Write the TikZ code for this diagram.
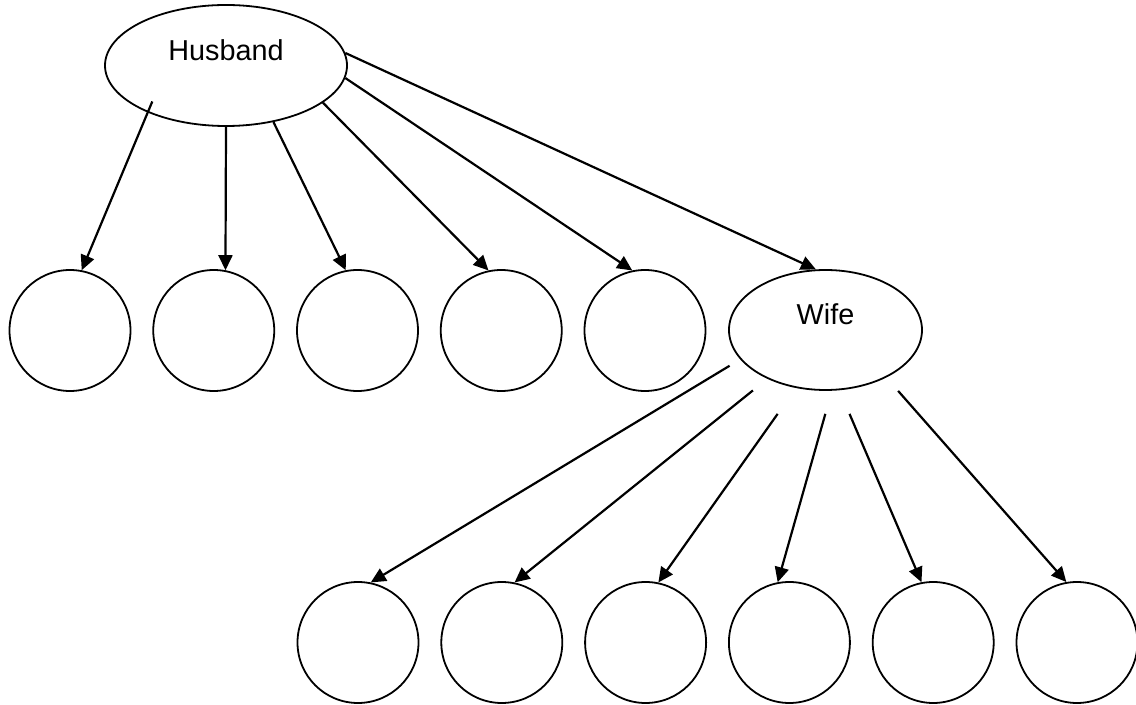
\documentclass[tikz,border=0pt]{standalone}
\usepackage{fontspec}
\setmainfont{Liberation Sans}
\usetikzlibrary{arrows.meta,shapes.geometric}

\tikzset{
  oval/.style={ellipse, draw, line width=0.9pt, inner sep=0pt},
  child/.style={circle, draw, line width=0.9pt, minimum size=60.5pt, inner sep=0pt},
  link/.style={-{Triangle[length=7.5pt,width=7pt]}, line width=1.1pt},
}

\begin{document}
\begin{tikzpicture}[x=0.5pt, y=-0.5pt, font=\fontsize{14.4}{17}\selectfont]
  \useasboundingbox (0,0) rectangle (1136,705);

  % Parents
  \node[oval, minimum width=121pt, minimum height=60.5pt,
    label={[yshift=7.75pt]center:Husband}] (hus) at (226,65.5) {};
  \node[oval, minimum width=96.5pt, minimum height=60pt,
    label={[yshift=8.1pt]center:Wife}] (wife) at (825.5,330) {};

  % Children of each
  \foreach \i in {1,...,5}
    \node[child] (h\i) at ({70+143.75*(\i-1)},330.5) {};
  \foreach \i in {1,...,6}
    \node[child] (w\i) at ({358+143.8*(\i-1)},642.5) {};

  % Husband arrows: start angle / target / end angle
  \draw[link, shorten <=-6pt] (hus.211.6) -- (h1.79);
  \foreach \a/\t/\b in {270/h2/79, 310/h3/101.6, 339/h4/102.5, 354/h5/102.5, 6/wife/99}
    \draw[link] (hus.\a) -- (\t.\b);

  % Wife arrows, started a little away from the ellipse
  \foreach \a/\t/\b/\s in {199.4/w1/78.8/6.2pt, 220.3/w2/78.8/9.25pt, 243/w3/78.8/15.85pt,
      276.8/w4/101.2/12pt, 283.7/w5/101.2/12.85pt, 322.5/w6/100/8.9pt}
    \draw[link, shorten <=\s] (wife.\a) -- (\t.\b);
\end{tikzpicture}
\end{document}
